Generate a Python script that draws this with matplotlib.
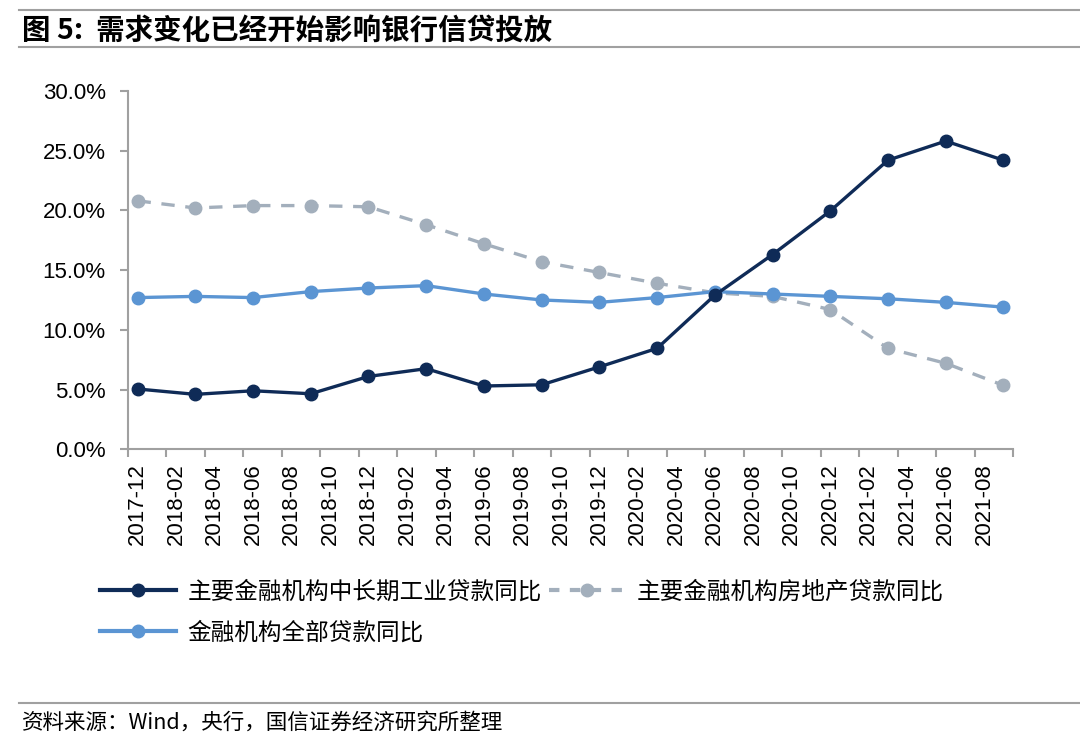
import numpy as np
import matplotlib
matplotlib.use("Agg")
import matplotlib.pyplot as plt
from matplotlib.lines import Line2D

plt.rcParams['font.family'] = ['Liberation Sans', 'Noto Sans CJK SC', 'DejaVu Sans']

# month index counted from 2017-12 (quarter-end observations)
months = [0, 3, 6, 9, 12, 15, 18, 21, 24, 27, 30, 33, 36, 39, 42, 45]
industry = [5.05, 4.6, 4.9, 4.65, 6.1, 6.75, 5.3, 5.4, 6.9, 8.45, 12.9, 16.3, 19.95, 24.2, 25.8, 24.2]
property_ = [20.8, 20.2, 20.4, 20.4, 20.3, 18.8, 17.2, 15.7, 14.8, 13.9, 13.1, 12.8, 11.7, 8.45, 7.2, 5.35]
all_loans = [12.7, 12.8, 12.7, 13.2, 13.5, 13.7, 13.0, 12.5, 12.3, 12.7, 13.2, 13.0, 12.8, 12.6, 12.3, 11.9]

tick_labels = ['2017-12', '2018-02', '2018-04', '2018-06', '2018-08', '2018-10', '2018-12',
               '2019-02', '2019-04', '2019-06', '2019-08', '2019-10', '2019-12',
               '2020-02', '2020-04', '2020-06', '2020-08', '2020-10', '2020-12',
               '2021-02', '2021-04', '2021-06', '2021-08']
names = ['主要金融机构中长期工业贷款同比', '主要金融机构房地产贷款同比', '金融机构全部贷款同比']

c_dark = '#0f2b57'
c_gray = '#a3afbc'
c_blue = '#5b95d3'

fig = plt.figure(figsize=(10.8, 7.39), dpi=100)
ax = fig.add_axes([0.1185, 0.392, 0.8195, 0.485])

ax.plot(months, property_, color=c_gray, lw=2.4, dashes=(4, 3.2), marker='o', ms=9, zorder=2)
ax.plot(months, all_loans, color=c_blue, lw=2.4, marker='o', ms=9, zorder=3)
ax.plot(months, industry, color=c_dark, lw=2.4, marker='o', ms=9, zorder=4)

ax.set_xlim(-0.5, 45.5)
ax.set_ylim(0, 30)
ax.set_yticks(np.arange(0, 31, 5))
ax.set_yticklabels(['%.1f%%' % v for v in np.arange(0, 31, 5)])
ax.set_xticks(np.arange(-0.5, 46, 2))
ax.set_xticklabels([])
ax.set_xticks(np.arange(0, 45, 2), minor=True)
ax.set_xticklabels(tick_labels, minor=True, rotation=90)
ax.tick_params(axis='x', which='minor', length=0, pad=10, labelsize=16)
ax.tick_params(axis='x', which='major', length=6, color='#a0a0a0', width=1.5)
ax.tick_params(axis='y', length=6, color='#a0a0a0', width=1.5, labelsize=16, pad=10)
for s in ['top', 'right']:
    ax.spines[s].set_visible(False)
for s in ['left', 'bottom']:
    ax.spines[s].set_color('#a0a0a0')
    ax.spines[s].set_linewidth(1.5)

h1 = Line2D([], [], color=c_dark, lw=3, marker='o', ms=9)
h2 = Line2D([], [], color=c_gray, lw=3, dashes=(2.5, 2.5), marker='o', ms=9)
h3 = Line2D([], [], color=c_blue, lw=3, marker='o', ms=9)
fig.legend([h1, h3, h2], [names[0], names[2], names[1]], ncol=2, loc='upper left',
           bbox_to_anchor=(0.073, 0.243), frameon=False, handlelength=3.2,
           columnspacing=0.3, labelspacing=0.75, handletextpad=0.5,
           prop={'family': ['Noto Sans CJK SC'], 'size': 17})

# header and footer
fig.add_artist(Line2D([0.018, 1.0], [0.986, 0.986], color='#a0a0a0', lw=1.5))
fig.add_artist(Line2D([0.018, 1.0], [0.936, 0.936], color='#a0a0a0', lw=1.5))
fig.text(0.02, 0.958, '图 5:  需求变化已经开始影响银行信贷投放', fontsize=20.5, fontweight='bold',
         va='center', ha='left', family=['Noto Sans CJK SC', 'DejaVu Sans'])
fig.add_artist(Line2D([0.018, 1.0], [0.049, 0.049], color='#a0a0a0', lw=1.5))
fig.text(0.02, 0.022, '资料来源：Wind，央行，国信证券经济研究所整理', fontsize=15.5,
         va='center', ha='left', family=['Noto Sans CJK SC', 'DejaVu Sans'])

fig.savefig('out.png', dpi=100)
